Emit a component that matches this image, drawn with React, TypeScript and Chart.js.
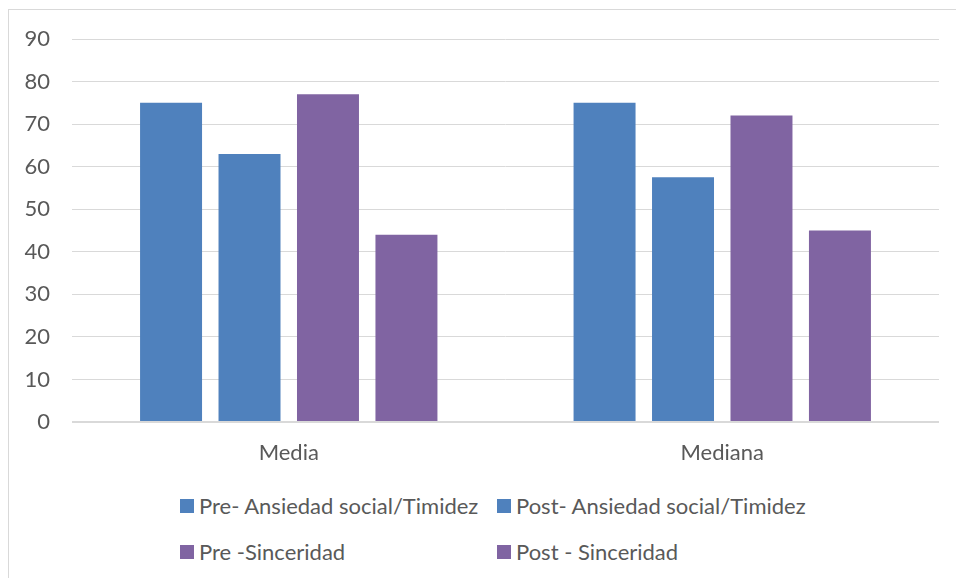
import React, { useEffect, useRef } from "react";
import { Chart, registerables } from "chart.js";

Chart.register(...registerables);

const categories = ["Media", "Mediana"];
const seriesNames = [
  "Pre- Ansiedad social/Timidez",
  "Post- Ansiedad social/Timidez",
  "Pre -Sinceridad",
  "Post - Sinceridad",
];
const preAnsiedad = [75, 75];
const postAnsiedad = [63, 57.5];
const preSinceridad = [77, 72];
const postSinceridad = [44, 45];
const seriesColors = ["#4F81BD", "#4F81BD", "#8064A2", "#8064A2"];
const yTicks = [0, 10, 20, 30, 40, 50, 60, 70, 80, 90];

const FONT = "Lato, 'Open Sans', sans-serif";
const TEXT = "#595959";

export default function App() {
  const ref = useRef<HTMLCanvasElement | null>(null);

  useEffect(() => {
    document.body.style.overflow = "hidden";
    const values = [preAnsiedad, postAnsiedad, preSinceridad, postSinceridad];
    const chart = new Chart(ref.current as HTMLCanvasElement, {
      type: "bar",
      data: {
        labels: categories,
        datasets: seriesNames.map((name, i) => ({
          label: name,
          data: values[i],
          backgroundColor: seriesColors[i],
          borderWidth: 0,
          barPercentage: 0.79,
          categoryPercentage: 0.724,
        })),
      },
      options: {
        animation: false,
        responsive: false,
        maintainAspectRatio: false,
        layout: { padding: { top: 39, right: 17, left: 0, bottom: 0 } },
        plugins: {
          legend: { display: false },
          tooltip: { enabled: false },
        },
        scales: {
          x: {
            grid: { display: false },
            border: { display: false },
            ticks: {
              color: TEXT,
              font: { family: FONT, size: 22 },
              padding: 10,
            },
            afterFit: (s: any) => {
              s.height = 48;
            },
          },
          y: {
            min: 0,
            max: 90,
            afterBuildTicks: (s: any) => {
              s.ticks = yTicks.map((v) => ({ value: v }));
            },
            grid: {
              color: "#d9d9d9",
              lineWidth: (ctx: any) => (ctx.tick && ctx.tick.value === 0 ? 2 : 1),
              drawTicks: false,
            },
            border: { display: false },
            ticks: {
              color: TEXT,
              font: { family: FONT, size: 22 },
              padding: 22,
            },
            afterFit: (s: any) => {
              s.width = 72;
            },
          },
        },
      },
    });
    return () => chart.destroy();
  }, []);

  const legendItem = (i: number, left: number, top: number) => (
    <div
      key={i}
      style={{
        position: "absolute",
        left,
        top,
        height: 14,
        display: "flex",
        alignItems: "center",
        whiteSpace: "nowrap",
      }}
    >
      <div style={{ width: 14, height: 14, background: seriesColors[i], marginRight: 5 }} />
      <span style={{ fontFamily: FONT, fontSize: 22, color: TEXT, lineHeight: "14px" }}>
        {seriesNames[i]}
      </span>
    </div>
  );

  return (
    <div style={{ position: "absolute", left: 0, top: 0, width: 956, height: 578, overflow: "hidden", background: "#fff" }}>
      <div
        style={{
          position: "absolute",
          left: 8,
          top: 9,
          width: 1100,
          height: 700,
          border: "1px solid #d9d9d9",
        }}
      />
      <canvas ref={ref} width={956} height={470} style={{ position: "absolute", left: 0, top: 0 }} />
      {legendItem(0, 180, 499)}
      {legendItem(1, 497, 499)}
      {legendItem(2, 180, 545)}
      {legendItem(3, 497, 545)}
    </div>
  );
}
